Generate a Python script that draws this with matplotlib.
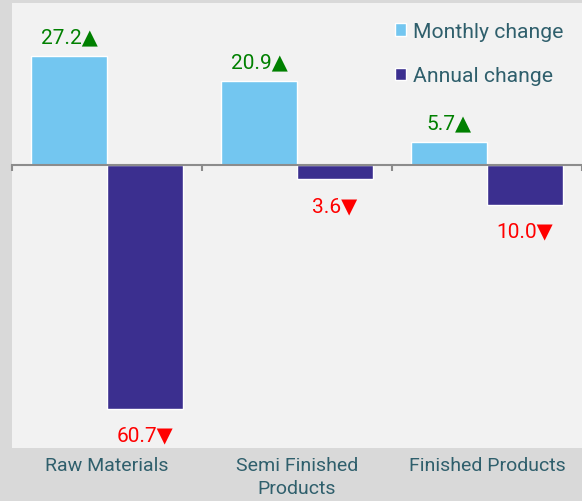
import matplotlib.pyplot as plt
import numpy as np

# data
categories = ["Raw Materials", "Semi Finished\nProducts", "Finished Products"]
monthly_change = [27.2, 20.9, 5.7]
annual_change = [-60.7, -3.6, -10.0]
series_names = ["Monthly change", "Annual change"]

light_blue = "#73c6f0"
dark_purple = "#3b2f8f"
text_col = "#2f5f6c"
up_col = "#008000"
down_col = "#ff0000"

plt.rcParams['font.family'] = ['Roboto', 'DejaVu Sans']

fig = plt.figure(figsize=(5.82, 5.02), dpi=100, facecolor="#d9d9d9")
ax = fig.add_axes([12 / 582, 53 / 502, 1 - 12 / 582, 445 / 502])
ax.set_facecolor("#f2f2f2")

x = np.arange(len(categories))
w = 0.4
ax.bar(x - w / 2, monthly_change, w, color=light_blue, edgecolor="white",
       linewidth=1.0, label=series_names[0])
ax.bar(x + w / 2, annual_change, w, color=dark_purple, edgecolor="white",
       linewidth=1.0, label=series_names[1])

ax.set_xlim(-0.5, 2.49)
ax.set_ylim(-70.4, 40.3)

# value labels with arrows
for xi, v in zip(x - w / 2, monthly_change):
    ax.annotate(f"{v:.1f}\u25B2", (xi, v), xytext=(0, 7), textcoords="offset points",
                ha="center", va="bottom", color=up_col, fontsize=15)
for xi, v in zip(x + w / 2, annual_change):
    ax.annotate(f"{abs(v):.1f}\u25BC", (xi, v), xytext=(0, -12), textcoords="offset points",
                ha="center", va="top", color=down_col, fontsize=15)

# axis line at zero with boundary ticks pointing down
for s in ["top", "right", "left"]:
    ax.spines[s].set_visible(False)
ax.spines["bottom"].set_position(("data", 0))
ax.spines["bottom"].set_color("#8c8c8c")
ax.spines["bottom"].set_linewidth(1.5)
ax.set_xticks([-0.5, 0.5, 1.5, 2.5])
ax.set_xticklabels([])
ax.tick_params(axis="x", direction="out", length=4, width=1.5, color="#8c8c8c")
ax.set_yticks([])

# category labels in the grey band under the plot
for xi, name in zip(x, categories):
    ax.text(xi, -0.018, name, transform=ax.get_xaxis_transform(), ha="center",
            va="top", color=text_col, fontsize=14, linespacing=1.38)

ax.legend(loc="upper right", frameon=False, fontsize=15.2, labelcolor=text_col,
          handlelength=0.55, handleheight=0.55, handletextpad=0.3,
          labelspacing=1.2, borderaxespad=0.5)

fig.savefig("out.png", dpi=100, facecolor=fig.get_facecolor())
